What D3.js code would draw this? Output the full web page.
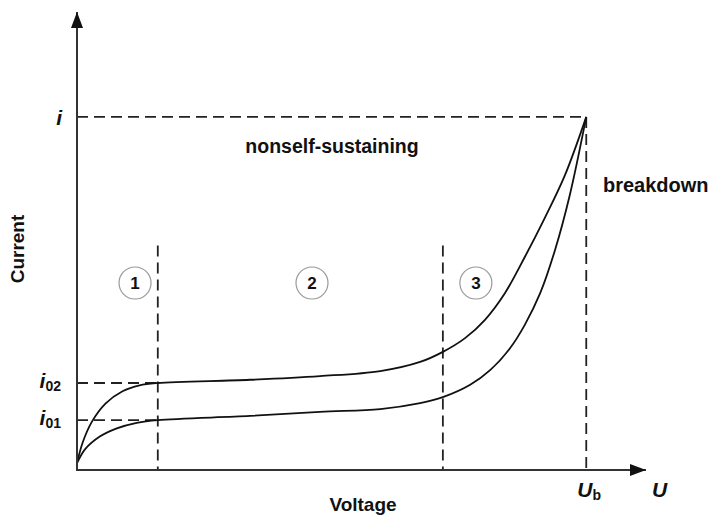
<!DOCTYPE html>
<html>
<head>
<meta charset="utf-8">
<script src="https://cdn.jsdelivr.net/npm/d3@7"></script>
<style>
  body { margin: 0; background: #fff; }
  text { font-family: "Liberation Sans", Arial, sans-serif; font-weight: bold; fill: #111; }
</style>
</head>
<body>
<div id="chart"></div>
<script>
// voltage / current (arbitrary units, 0-100)
var upperV = [0, 1.0, 2.6, 5.0, 8.0, 11.0, 14.2, 30.4, 42.7, 53.3, 60.3, 64.3, 68.2, 71.7, 75.2, 78.7, 82.2, 85.7, 89.5];
var upperI = [1.5, 6.0, 10.5, 14.5, 17.2, 18.5, 19.0, 19.7, 20.5, 21.6, 23.6, 25.8, 28.8, 32.8, 38.6, 46.5, 55.0, 64.2, 77.1];
var lowerV = [0, 1.4, 4.0, 7.0, 10.5, 14.2, 30.4, 42.7, 53.3, 60.3, 64.3, 69.1, 72.6, 76.1, 78.7, 81.4, 84.0, 86.6, 89.5];
var lowerI = [1.5, 4.5, 7.3, 9.1, 10.3, 10.9, 11.8, 12.7, 13.3, 14.6, 15.9, 18.6, 21.8, 26.6, 31.7, 38.6, 48.0, 60.0, 77.1];

var regionBounds = [14.2, 64.3];          // dashed separators
var regionLabels = ["1", "2", "3"];
var regionLabelV = [10.2, 41.3, 70.1];
var Ub = 89.5, iTop = 77.1, i02 = 19.0, i01 = 10.9;

var W = 709, H = 515;
var x = d3.scaleLinear().domain([0, 100]).range([77, 646]);
var y = d3.scaleLinear().domain([0, 100]).range([470, 12]);

var svg = d3.select("#chart").append("svg")
  .attr("width", W).attr("height", H);

var defs = svg.append("defs");
defs.append("marker").attr("id", "arr")
  .attr("markerUnits", "userSpaceOnUse")
  .attr("viewBox", "0 0 16 12").attr("refX", 16).attr("refY", 6)
  .attr("markerWidth", 16).attr("markerHeight", 12).attr("orient", "auto")
  .append("path").attr("d", "M0,0L16,6L0,12Z").attr("fill", "#111");

var g = svg.append("g");

// dashed guides
var dash = g.append("g").attr("stroke", "#222").attr("stroke-width", 1.8)
  .attr("stroke-dasharray", "11,6").attr("fill", "none");
dash.append("line").attr("x1", x(0)).attr("x2", x(Ub)).attr("y1", y(iTop)).attr("y2", y(iTop));
dash.append("line").attr("x1", x(Ub)).attr("x2", x(Ub)).attr("y1", y(iTop)).attr("y2", y(0));
dash.append("line").attr("x1", x(0)).attr("x2", x(regionBounds[0])).attr("y1", y(i02)).attr("y2", y(i02));
dash.append("line").attr("x1", x(0)).attr("x2", x(regionBounds[0])).attr("y1", y(i01)).attr("y2", y(i01));
regionBounds.forEach(function(b){
  dash.append("line").attr("x1", x(b)).attr("x2", x(b)).attr("y1", y(49)).attr("y2", y(0));
});

// curves
var line = d3.line().x(function(d){ return x(d[0]); }).y(function(d){ return y(d[1]); })
  .curve(d3.curveCatmullRom.alpha(0.5));
[[upperV, upperI], [lowerV, lowerI]].forEach(function(s){
  g.append("path").datum(d3.zip(s[0], s[1])).attr("d", line)
    .attr("fill", "none").attr("stroke", "#111").attr("stroke-width", 1.8);
});

// axes
g.append("line").attr("x1", x(0)).attr("x2", x(0)).attr("y1", y(0) + 1).attr("y2", y(100))
  .attr("stroke", "#333").attr("stroke-width", 2).attr("marker-end", "url(#arr)");
g.append("line").attr("x1", x(0) - 1).attr("x2", x(100)).attr("y1", y(0)).attr("y2", y(0))
  .attr("stroke", "#333").attr("stroke-width", 2).attr("marker-end", "url(#arr)");

// region markers
regionLabels.forEach(function(t, k){
  var cx = x(regionLabelV[k]), cy = 283;
  g.append("circle").attr("cx", cx).attr("cy", cy).attr("r", 16)
    .attr("fill", "none").attr("stroke", "#999").attr("stroke-width", 1.2);
  g.append("text").attr("x", cx).attr("y", cy + 6).attr("text-anchor", "middle")
    .attr("font-size", 17).text(t);
});

// labels
g.append("text").attr("x", 332).attr("y", 153).attr("text-anchor", "middle")
  .attr("font-size", 19.5).text("nonself-sustaining");
g.append("text").attr("x", 603).attr("y", 192).attr("font-size", 20).text("breakdown");
g.append("text").attr("x", 363).attr("y", 511).attr("text-anchor", "middle")
  .attr("font-size", 19).text("Voltage");
g.append("text").attr("transform", "translate(24,249) rotate(-90)").attr("text-anchor", "middle")
  .attr("font-size", 19).text("Current");

function italicLabel(px, py, main, sub, anchor){
  var t = g.append("text").attr("x", px).attr("y", py).attr("font-style", "italic")
    .attr("font-size", 21).attr("text-anchor", anchor || "end");
  t.append("tspan").text(main);
  if (sub) t.append("tspan").attr("font-size", 14).attr("font-style", "normal").attr("dy", 3).text(sub);
}
italicLabel(62, y(iTop) + 8, "i");
italicLabel(61, y(i02) + 5, "i", "02");
italicLabel(61, y(i01) + 5, "i", "01");
italicLabel(x(Ub) - 9, 497, "U", "b", "start");
italicLabel(652, 497, "U", null, "start");
</script>
</body>
</html>
